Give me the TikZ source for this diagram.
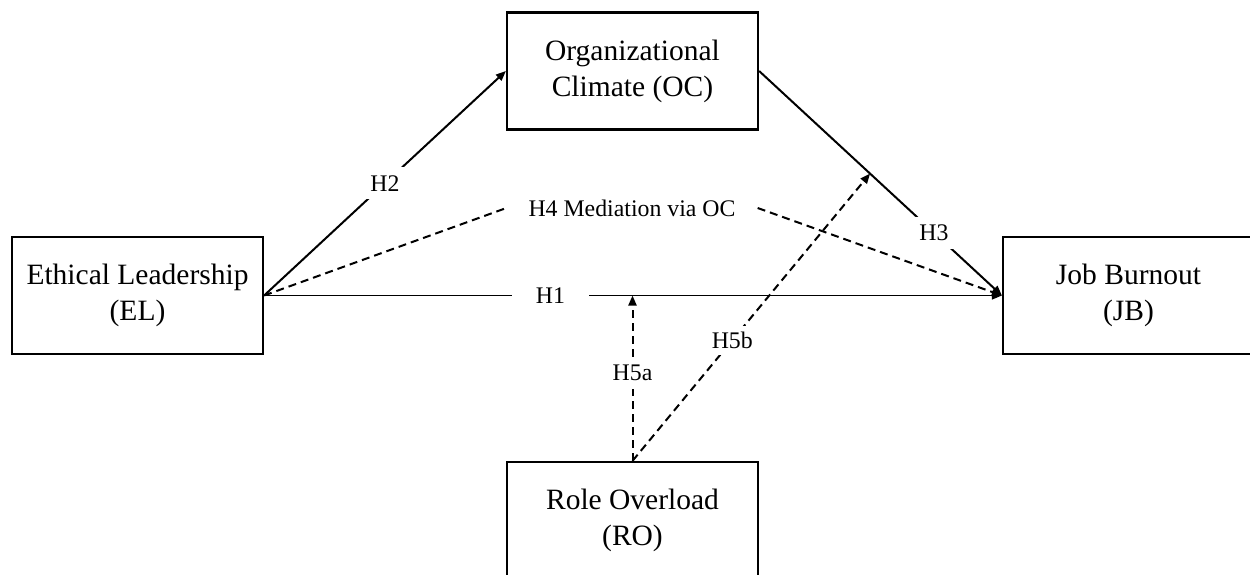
\documentclass[tikz,border=0pt]{standalone}
\usepackage{fontspec}
\setmainfont{Liberation Serif}
\usetikzlibrary{arrows.meta,calc}
\begin{document}
\begin{tikzpicture}[x=1pt,y=-1pt,
  box/.style={draw,line width=2.2pt,minimum width=251pt,minimum height=117pt,align=center,
    font=\fontsize{29.5}{36}\selectfont,inner sep=0pt},
  lbl/.style={fill=white,inner sep=8pt,font=\fontsize{23.8}{28}\selectfont},
  arr/.style={line width=2pt,-{Triangle[length=10pt,width=8pt]}},
  thinarr/.style={line width=1.3pt,-{Triangle[length=10pt,width=8pt]}},
  dsh/.style={line width=2pt,dash pattern=on 8pt off 5pt}
]
\useasboundingbox (0,0) rectangle (1250,575);
\node[box] (EL) at (137.5,295.5) {Ethical Leadership\\(EL)};
\node[box] (OC) at (632.5,71) {Organizational\\Climate (OC)};
\node[box] (JB) at (1128.5,295.5) {Job Burnout\\(JB)};
\node[box] (RO) at (632.5,520.5) {Role Overload\\(RO)};
% H1
\draw[thinarr] (EL.east) -- node[lbl,pos=0.388,inner xsep=24pt]{H1} (JB.west);
% H2, H3
\draw[arr] (EL.east) -- node[lbl,pos=0.5]{H2} (OC.west);
\draw[arr] (OC.east) -- node[lbl,pos=0.72]{H3} (JB.west);
% H4
\node[lbl,inner xsep=22pt,inner ysep=4pt] (H4) at (632,208) {H4 Mediation via OC};
\draw[dsh] (EL.east) -- (H4.west);
\draw[dsh,-{Triangle[length=10pt,width=8pt]}] (H4.east) -- (JB.west);
% H5a, H5b
\coordinate (h5a) at (RO.north |- EL.east);
\coordinate (h5b) at ($(OC.east)!0.457!(JB.west)$);
\draw[dsh,-{Triangle[length=10pt,width=8pt]}] (RO.north) -- node[lbl,pos=0.53,inner xsep=2pt]{H5a} (h5a);
\draw[dsh,-{Triangle[length=10pt,width=8pt]}] (RO.north) -- node[lbl,pos=0.42,inner sep=6pt]{H5b} (h5b);
\end{tikzpicture}
\end{document}
